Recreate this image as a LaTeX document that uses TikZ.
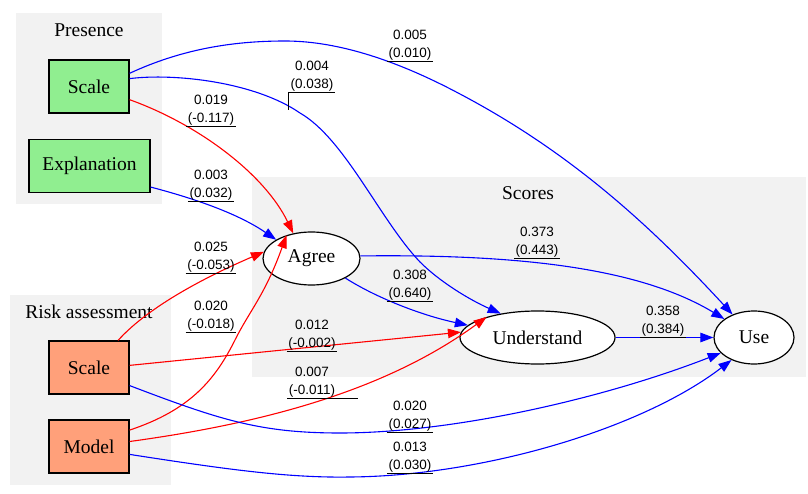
\documentclass[tikz,border=0pt]{standalone}
\usepackage{fontspec}
\setmainfont{Liberation Serif}
\newfontfamily\lblfont{Liberation Sans}
\usetikzlibrary{arrows.meta,shapes.geometric}
\definecolor{clbg}{RGB}{242,242,242}
\definecolor{lgreen}{HTML}{90EE90}
\definecolor{lsalmon}{HTML}{FFA07A}
\begin{document}
\begin{tikzpicture}[x=1pt,y=-1pt,
  nfont/.style={font=\fontsize{19.5}{22}\selectfont},
  box/.style={draw,line width=1.2pt,minimum width=80pt,minimum height=53pt,inner sep=0pt,nfont},
  ell/.style={draw,ellipse,fill=white,line width=1.2pt,inner sep=0pt,minimum height=53pt,nfont},
  cltitle/.style={nfont,inner sep=0pt},
  lbl/.style={font=\lblfont\fontsize{13.5}{18}\selectfont,align=center,inner xsep=1.5pt,inner ysep=1pt,anchor=south},
  ul/.style={draw=black,line width=0.9pt},
  edge/.style={line width=1.1pt,-{Triangle[length=13pt,width=9.5pt]}},
  be/.style={edge,draw=blue},
  re/.style={edge,draw=red}
]
\useasboundingbox (0,0) rectangle (808,494);
% clusters
\fill[clbg] (16,13) rectangle (162,204);
\fill[clbg] (10,295) rectangle (171,485);
\fill[clbg] (252,177) rectangle (806,377);
\node[cltitle] (tpres) at (89,30) {Presence};
\node[cltitle] (trisk) at (89,312) {Risk assessment};
\node[cltitle] (tscore) at (528,193) {Scores};
% nodes
\node[box,fill=lgreen] (ps) at (89,86.5) {Scale};
\node[box,fill=lgreen,minimum width=121pt] (ex) at (89.5,166) {Explanation};
\node[box,fill=lsalmon] (rs) at (89,367.5) {Scale};
\node[box,fill=lsalmon] (mo) at (89,446.5) {Model};
\node[ell,minimum width=97pt] (ag) at (311.5,258.5) {Agree};
\node[ell,minimum width=155pt] (un) at (537.5,337.5) {Understand};
\node[ell,minimum width=80pt] (us) at (754,337.5) {Use};
% edges
\draw[be] (ps.18) .. controls (180,50) and (230,41) .. (285,41)
              .. controls (340,41) and (400,62) .. (460,94)
              .. controls (570,152) and (650,225) .. (us.133);
\draw[be] (ps.11) .. controls (175,73) and (255,82) .. (300,113)
              .. controls (345,139) and (380,220) .. (420,262)
              .. controls (440,282) and (470,300) .. (un.147);
\draw[re] (ps.-18) .. controls (200,125) and (265,175) .. (ag.126);
\draw[be] (ex.-19) .. controls (200,200) and (240,215) .. (ag.152);
\draw[re] (rs.43) .. controls (150,305) and (210,275) .. (ag.172);
\draw[re] (mo.22) .. controls (190,410) and (215,380) .. (235,340)
              .. controls (250,310) and (265,295) .. (ag.137);
\draw[re] (rs.3) -- (un.176);
\draw[re] (mo.7) .. controls (250,425) and (380,395) .. (un.158);
\draw[be] (rs.-24) .. controls (220,420) and (260,433) .. (340,433)
              .. controls (450,433) and (600,400) .. (us.205);
\draw[be] (mo.-11) .. controls (230,470) and (290,478) .. (350,477)
              .. controls (480,476) and (640,430) .. (us.225);
\draw[be] (ag.3) .. controls (520,254) and (640,268) .. (us.148);
\draw[be] (ag.-30) .. controls (375,297) and (420,315) .. (un.170);
\draw[be] (un.east) -- (us.west);
% labels
\node[lbl] (l1) at (410,61) {0.005\\(0.010)};
\node[lbl] (l2) at (312,92) {0.004\\(0.038)};
\node[lbl] (l3) at (211,126) {0.019\\(-0.117)};
\node[lbl] (l4) at (211,201) {0.003\\(0.032)};
\node[lbl] (l5) at (211,273) {0.025\\(-0.053)};
\node[lbl] (l6) at (211,332) {0.020\\(-0.018)};
\node[lbl] (l7) at (312,351) {0.012\\(-0.002)};
\node[lbl] (l8) at (312,398) {0.007\\(-0.011)};
\node[lbl] (l9) at (410,432) {0.020\\(0.027)};
\node[lbl] (l10) at (410,473) {0.013\\(0.030)};
\node[lbl] (l11) at (537,258) {0.373\\(0.443)};
\node[lbl] (l12) at (410,301) {0.308\\(0.640)};
\node[lbl] (l13) at (663,337) {0.358\\(0.384)};
\foreach \l in {l1,l2,l3,l4,l5,l6,l7,l8,l9,l10,l11,l12,l13}
  \draw[ul] (\l.south west) -- (\l.south east);
\coordinate (t2) at (l2.south west |- 0,110);
\draw[ul] (l2.south west) -- (t2);
\coordinate (t8) at (358,398);
\draw[ul] (l8.south east) -- (t8);
\end{tikzpicture}
\end{document}
